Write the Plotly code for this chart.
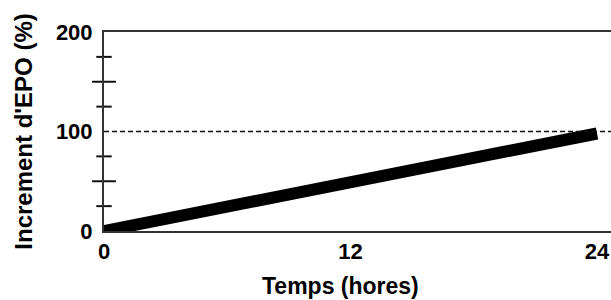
import plotly.graph_objects as go

# Data
time_h = [0, 24]
epo_increase = [0, 98]
reference_level = 100
y_tick_vals = [0, 100, 200]
y_tick_text = ["0", "100", "200"]
x_tick_vals = [0, 12, 24]
x_tick_text = ["0", "12", "24"]
minor_long = [50, 150]
minor_short = [25, 75, 125, 175]

FONT = "Liberation Sans, Arial, Helvetica, sans-serif"

fig = go.Figure()

# minor crossing ticks on the y axis
fig.add_trace(go.Scatter(
    x=[0] * len(minor_long), y=minor_long, mode="markers",
    marker=dict(symbol="line-ew", size=17, line=dict(width=2, color="#111")),
    cliponaxis=False, hoverinfo="skip", showlegend=False))
fig.add_trace(go.Scatter(
    x=[0] * len(minor_short), y=minor_short, mode="markers",
    marker=dict(symbol="line-ew", size=11, line=dict(width=2, color="#111")),
    cliponaxis=False, hoverinfo="skip", showlegend=False))

# main line
fig.add_trace(go.Scatter(
    x=time_h, y=epo_increase, mode="lines",
    line=dict(color="black", width=12),
    showlegend=False))

fig.add_hline(y=reference_level, line=dict(color="#111", width=1.5, dash="5px,3px"))

fig.add_annotation(
    text="Temps (hores)", x=12, y=0, xref="x", yref="paper",
    yanchor="top", yshift=-40, xshift=-10, showarrow=False,
    font=dict(family=FONT, size=23, color="black", weight="bold"))

fig.update_layout(
    width=611, height=300,
    margin=dict(l=104, r=0, t=32, b=69),
    paper_bgcolor="white", plot_bgcolor="white",
    showlegend=False,
    xaxis=dict(
        range=[0, 24.68], tickvals=x_tick_vals, ticktext=x_tick_text,
        showline=True, linecolor="#333", linewidth=2, mirror=True,
        showgrid=False, zeroline=False, ticks="", ticklabelstandoff=0,
        tickfont=dict(family=FONT, size=22, color="black", weight="bold")),
    yaxis=dict(
        range=[0, 200], tickvals=y_tick_vals, ticktext=y_tick_text,
        showline=True, linecolor="#333", linewidth=2,
        showgrid=False, zeroline=False, ticks="", ticklabelstandoff=5,
        title=dict(text="Increment d'EPO (%)", standoff=16,
                   font=dict(family=FONT, size=24, color="black", weight="bold")),
        tickfont=dict(family=FONT, size=22, color="black", weight="bold")),
)

fig.write_html(
    "out.html",
    config={"displayModeBar": False},
    post_script="document.body.style.margin='0';document.body.style.overflow='hidden';")
